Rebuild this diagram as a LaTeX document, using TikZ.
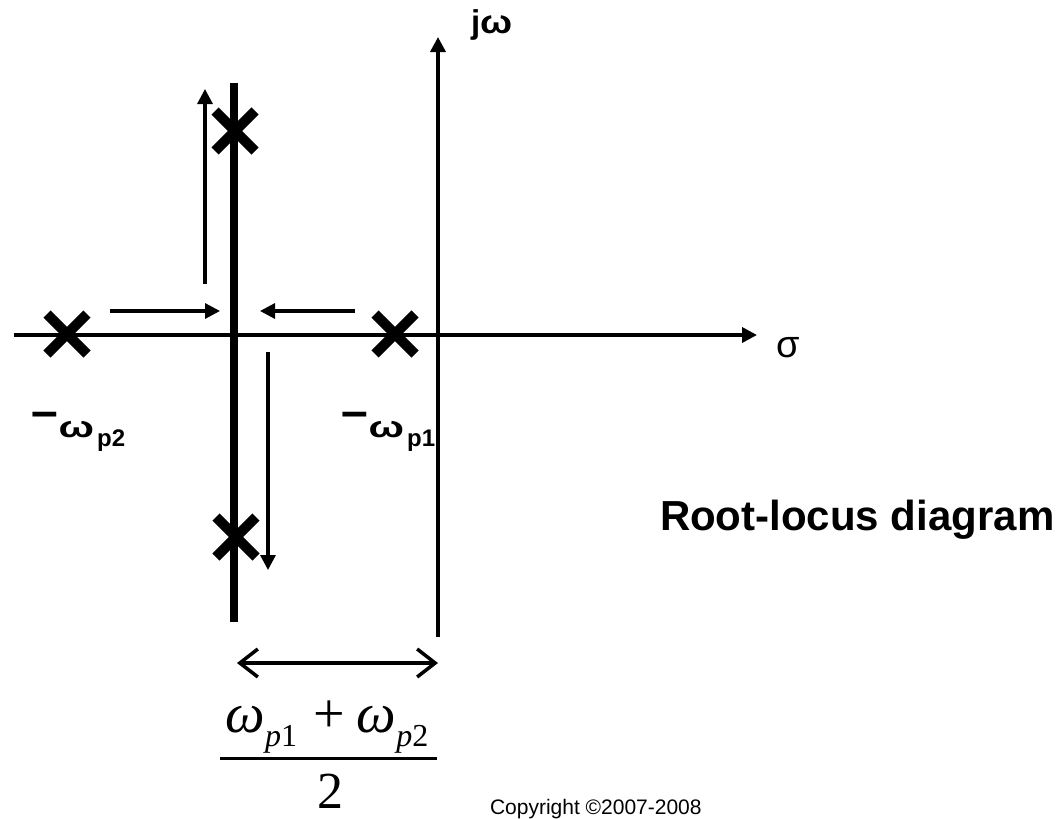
\documentclass[tikz,border=0pt]{standalone}
\usepackage{fontspec}
\setmainfont{Liberation Sans}
\newfontfamily\serifit{Liberation Serif}
\usetikzlibrary{arrows.meta,shapes.misc}
\newcommand\numsub[2]{\raisebox{-14pt}{\fontsize{32}{32}\selectfont\itshape #1\upshape #2}}
\newcommand\lblsub[1]{\hspace{3pt}\raisebox{-9pt}{\fontsize{24}{24}\selectfont #1}}
\newcommand\lblminus{\raisebox{10pt}{\scalebox{1.6}[1.6]{–}}\hspace{1pt}}
\begin{document}
\begin{tikzpicture}[x=1pt,y=-1pt,
  every node/.style={inner sep=0pt,outer sep=0pt},
  axisline/.style={line width=3.5pt,-{Triangle[length=15pt,width=15pt]}},
  thinarrow/.style={line width=3.2pt,-{Triangle[length=15pt,width=15pt]}},
  thickline/.style={line width=8pt},
  spanarrow/.style={line width=3.5pt,{Straight Barb[length=18pt,width=28pt]}-{Straight Barb[length=18pt,width=28pt]}},
  polex/.style={cross out,draw,line width=10pt,minimum size=40pt,inner sep=0pt},
  lbl/.style={anchor=base west,font=\bfseries\fontsize{30}{30}\selectfont}
]
\useasboundingbox (0,0) rectangle (1061,819);
% coordinates
\coordinate (hS) at (14,335);
\coordinate (hE) at (757,335);
\coordinate (vS) at (438,637);
\coordinate (vE) at (438,37);
\coordinate (tS) at (234,83);
\coordinate (tE) at (234,622);
\coordinate (uS) at (205,284);
\coordinate (uE) at (205,89);
\coordinate (dS) at (268,352);
\coordinate (dE) at (268,570);
\coordinate (rS) at (110,311);
\coordinate (rE) at (220,311);
\coordinate (lS) at (355,311);
\coordinate (lE) at (260,311);
\coordinate (sL) at (237,663);
\coordinate (sR) at (438,663);
\coordinate (barL) at (220,758);
\coordinate (barR) at (437,758);
% axes and lines
\draw[axisline] (hS) -- (hE);
\draw[axisline] (vS) -- (vE);
\draw[thickline] (tS) -- (tE);
\draw[thinarrow] (uS) -- (uE);
\draw[thinarrow] (dS) -- (dE);
\draw[thinarrow] (rS) -- (rE);
\draw[thinarrow] (lS) -- (lE);
\draw[spanarrow] (sL) -- (sR);
% poles
\node[polex] (p2) at (67,334) {};
\node[polex] (p1) at (395,334) {};
\node[polex] (pu) at (235,131) {};
\node[polex] (pd) at (236,537) {};
% labels
\node[anchor=base west,font=\bfseries\fontsize{33}{33}\selectfont] (jw) at (471,34) {j\scalebox{1.15}[1]{ω}};
\node[anchor=base west,font=\fontsize{38}{38}\selectfont] (sig) at (776,357) {σ};
\node[lbl] (lp2) at (31,437) {\lblminus\scalebox{1.4}[1]{ω}\lblsub{p2}};
\node[lbl] (lp1) at (341,437) {\lblminus\scalebox{1.4}[1]{ω}\lblsub{p1}};
\node[anchor=base west,font=\bfseries\fontsize{42}{42}\selectfont] (title) at (660,530) {Root-locus diagram};
% fraction
\node[anchor=base,font=\serifit\fontsize{56}{60}\selectfont] (num) at (327,732) {\textit{ω}\numsub{p}{1}\hspace{16pt}+\hspace{12pt}\textit{ω}\numsub{p}{2}};
\draw[line width=3pt] (barL) -- (barR);
\node[anchor=base,font=\serifit\fontsize{52}{56}\selectfont] (den) at (330,808) {2};
\node[anchor=base west,font=\fontsize{21}{21}\selectfont] (copy) at (490,814) {Copyright ©2007-2008};
\end{tikzpicture}
\end{document}
